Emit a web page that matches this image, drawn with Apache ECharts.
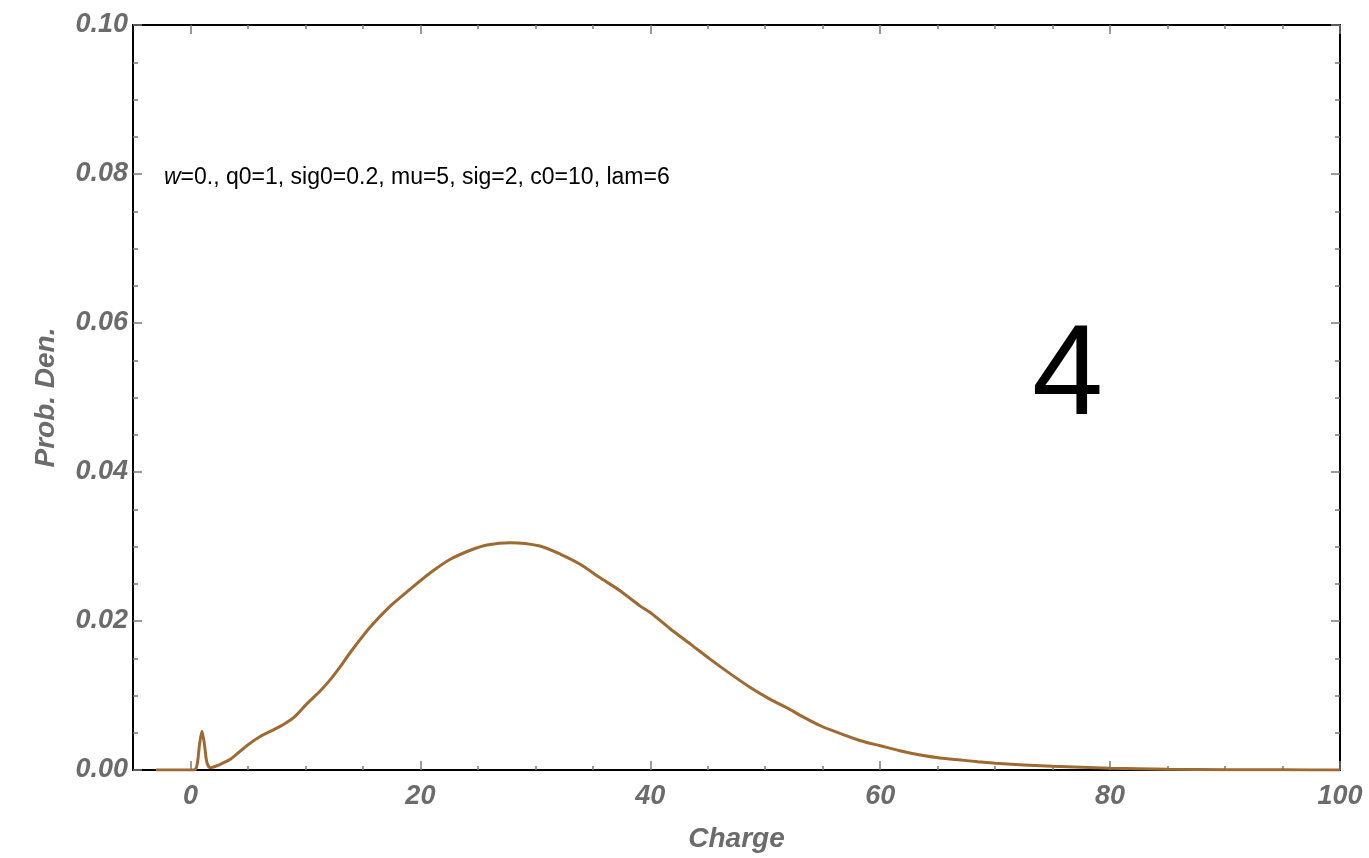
<!DOCTYPE html>
<html>
<head>
<meta charset="utf-8">
<title>Charge spectrum</title>
<script src="https://cdn.jsdelivr.net/npm/echarts@6/dist/echarts.min.js"></script>
<style>
  html, body { margin: 0; padding: 0; background: #fff; }
  #chart { width: 1369px; height: 858px; }
</style>
</head>
<body>
<div id="chart"></div>
<script>
// Model response curve: charge vs. probability density
const charge = [
  -3, -1, 0, 0.4, 0.6, 0.8, 1.0, 1.2, 1.4, 1.6, 1.75,
  2.5, 3.5, 4.9, 6.1, 7.8, 9.0, 10.1, 11.3, 12.2, 13.0, 13.9,
  15.6, 17.4, 19.1, 20.9, 22.6, 24.4, 25.8, 27.8, 30.4, 32.2,
  33.9, 35.6, 37.4, 39.1, 40.0, 41.7, 43.5, 45.2, 47.0, 48.7,
  50.4, 52.1, 53.0, 54.8, 56.5, 58.3, 60.0, 61.7, 63.5, 65.2,
  67.0, 68.5, 70, 75, 80, 85, 90, 95, 100
];
const density = [
  0, 0, 0, 0.00005, 0.0009, 0.0036, 0.0052, 0.0036, 0.0012, 0.0004, 0.0003,
  0.0007, 0.00147, 0.00326, 0.00452, 0.00585, 0.00706, 0.00885, 0.01063, 0.0122, 0.0138, 0.01577,
  0.01912, 0.02203, 0.02426, 0.0265, 0.02828, 0.02953, 0.0302, 0.03052, 0.03007, 0.02895,
  0.02761, 0.02583, 0.02404, 0.02203, 0.02114, 0.019, 0.01689, 0.01488, 0.01287, 0.01108,
  0.00952, 0.00818, 0.00737, 0.00594, 0.00492, 0.00393, 0.00326, 0.00259, 0.00201, 0.00161,
  0.00134, 0.00111, 0.0009, 0.0005, 0.00025, 0.0001, 0.00005, 0.00002, 0
];
const xMajorTicks = [0, 20, 40, 60, 80, 100];
const xMinorTicks = [5, 10, 15, 25, 30, 35, 45, 50, 55, 65, 70, 75, 85, 90, 95];
const paramText = '{i|w}=0., q0=1, sig0=0.2, mu=5, sig=2, c0=10, lam=6';
const panelTag = '4';

const frameColor = '#000';
const tickColor = '#7a7a7a';
const labelStyle = {
  color: '#6b6b6b', fontFamily: 'Liberation Sans', fontWeight: 'bold',
  fontStyle: 'italic', fontSize: 27
};

function xAxisDef(pos, ticks, len, withLabels) {
  return {
    type: 'value', position: pos, min: -5, max: 100,
    axisLine: { show: true, onZero: false, lineStyle: { color: frameColor, width: 2 } },
    axisTick: { show: true, inside: true, length: len, customValues: ticks,
                lineStyle: { color: tickColor, width: 1.5 } },
    axisLabel: withLabels
      ? Object.assign({ show: true, margin: 13, customValues: ticks }, labelStyle)
      : { show: false },
    splitLine: { show: false }
  };
}
function yAxisDef(pos, withLabels) {
  return {
    type: 'value', position: pos, min: 0, max: 0.1, interval: 0.02,
    axisLine: { show: true, onZero: false, lineStyle: { color: frameColor, width: 2 } },
    axisTick: { show: true, inside: true, length: 9, lineStyle: { color: tickColor, width: 1.5 } },
    minorTick: { show: true, splitNumber: 4, length: 5, lineStyle: { color: tickColor, width: 1.5 } },
    axisLabel: withLabels
      ? Object.assign({ show: true, margin: 5, formatter: v => v.toFixed(2) }, labelStyle)
      : { show: false },
    splitLine: { show: false },
    minorSplitLine: { show: false }
  };
}

const xAxes = [
  xAxisDef('bottom', xMajorTicks, 9, true),
  xAxisDef('bottom', xMinorTicks, 4, false),
  xAxisDef('top', xMajorTicks, 9, false),
  xAxisDef('top', xMinorTicks, 4, false)
];
xAxes[0].name = 'Charge';
xAxes[0].nameLocation = 'middle';
xAxes[0].nameGap = 55;
xAxes[0].nameTextStyle = Object.assign({}, labelStyle, { fontSize: 28 });

const yAxes = [yAxisDef('left', true), yAxisDef('right', false)];
yAxes[0].name = 'Prob. Den.';
yAxes[0].nameLocation = 'middle';
yAxes[0].nameGap = 73;
yAxes[0].nameTextStyle = Object.assign({}, labelStyle, { fontSize: 28 });

const chart = echarts.init(document.getElementById('chart'), null, { renderer: 'canvas' });
chart.setOption({
  animation: false,
  backgroundColor: '#fff',
  grid: { left: 133, right: 29, top: 25, bottom: 87, containLabel: false },
  title: [
    {
      text: paramText, left: 159, top: 161,
      textStyle: {
        fontFamily: 'Liberation Sans', fontSize: 23, fontWeight: 'normal', color: '#000',
        rich: { i: { fontFamily: 'Liberation Sans', fontSize: 23, fontStyle: 'italic', color: '#000' } }
      }
    },
    {
      text: panelTag, left: 1027, top: 310,
      textStyle: { fontFamily: 'Liberation Sans', fontSize: 128, fontWeight: 'normal', color: '#000' }
    }
  ],
  xAxis: xAxes,
  yAxis: yAxes,
  series: [{
    type: 'line',
    xAxisIndex: 0, yAxisIndex: 0,
    data: charge.map((q, i) => [q, density[i]]),
    smooth: 0.25,
    symbol: 'none',
    lineStyle: { color: '#9e6a32', width: 3 },
    z: 1
  }]
});
</script>
</body>
</html>
